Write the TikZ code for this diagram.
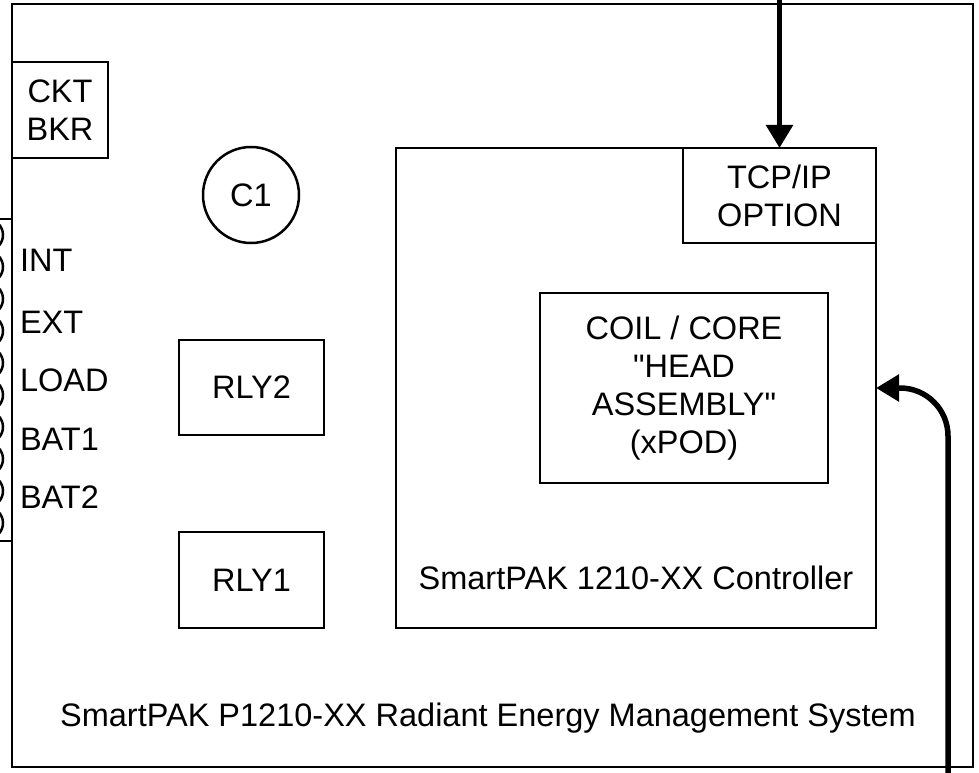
\documentclass[tikz,border=0pt]{standalone}
\usepackage{fontspec}
\setmainfont{Liberation Sans}[Ligatures=TeXOff]
\usetikzlibrary{arrows.meta}
\begin{document}
\begin{tikzpicture}[x=1pt,y=-1pt,
  every node/.style={font=\fontsize{32.5}{38}\selectfont, align=center, inner sep=0pt, outer sep=0pt},
  box/.style={draw, line width=2.5pt, rectangle},
  lbl/.style={anchor=west},
  bigarrow/.style={line width=5.5pt, -{Triangle[length=23pt,width=26pt]}}]
\useasboundingbox (0,0) rectangle (979,773);
% outer box
\node[box, minimum width=961pt, minimum height=763pt] (sys) at (492.5,385.5) {};
% terminal strip
\begin{scope}
\clip (0,210) rectangle (12,550);
\foreach \i in {0,...,9} \draw[line width=2.5pt] (-13,{235+32*\i}) circle (16);
\end{scope}
\draw[line width=2.5pt] (0,219) -- (12,219);
\draw[line width=2.5pt] (0,541) -- (12,541);
\node[box, minimum width=96pt, minimum height=96pt] (ckt) at (60,110) {CKT\\BKR};
\node[lbl] (int) at (20,260) {INT};
\node[lbl] (ext) at (20,322) {EXT};
\node[lbl] (load) at (20,380) {LOAD};
\node[lbl] (bat1) at (20,439) {BAT1};
\node[lbl] (bat2) at (20,497) {BAT2};
\node[draw, line width=2.5pt, circle, minimum size=96pt] (c1) at (251,195) {C1};
\node[box, minimum width=145pt, minimum height=95pt] (rly2) at (251.5,387.5) {RLY2};
\node[box, minimum width=145pt, minimum height=96pt] (rly1) at (251.5,580) {RLY1};
\node[box, minimum width=480pt, minimum height=480pt] (ctrl) at (636,388) {};
\node[box, minimum width=193pt, minimum height=95pt] (tcp) at (779.5,195.5) {TCP/IP\\OPTION};
\node[box, minimum width=288pt, minimum height=190pt] (coil) at (684,388) {COIL / CORE\\"HEAD\\ASSEMBLY"\\(xPOD)};
\node (ctrllbl) at (636,578) {SmartPAK 1210-XX Controller};
\node (syslbl) at (488,718) {SmartPAK P1210-XX Radiant Energy Management System};
% connectors
\coordinate (topin) at (779.5,0);
\coordinate (botin) at (948,773);
\draw[bigarrow] (topin) -- (tcp.north);
\draw[bigarrow, rounded corners=48pt] (botin) |- (ctrl.east);
\end{tikzpicture}
\end{document}
